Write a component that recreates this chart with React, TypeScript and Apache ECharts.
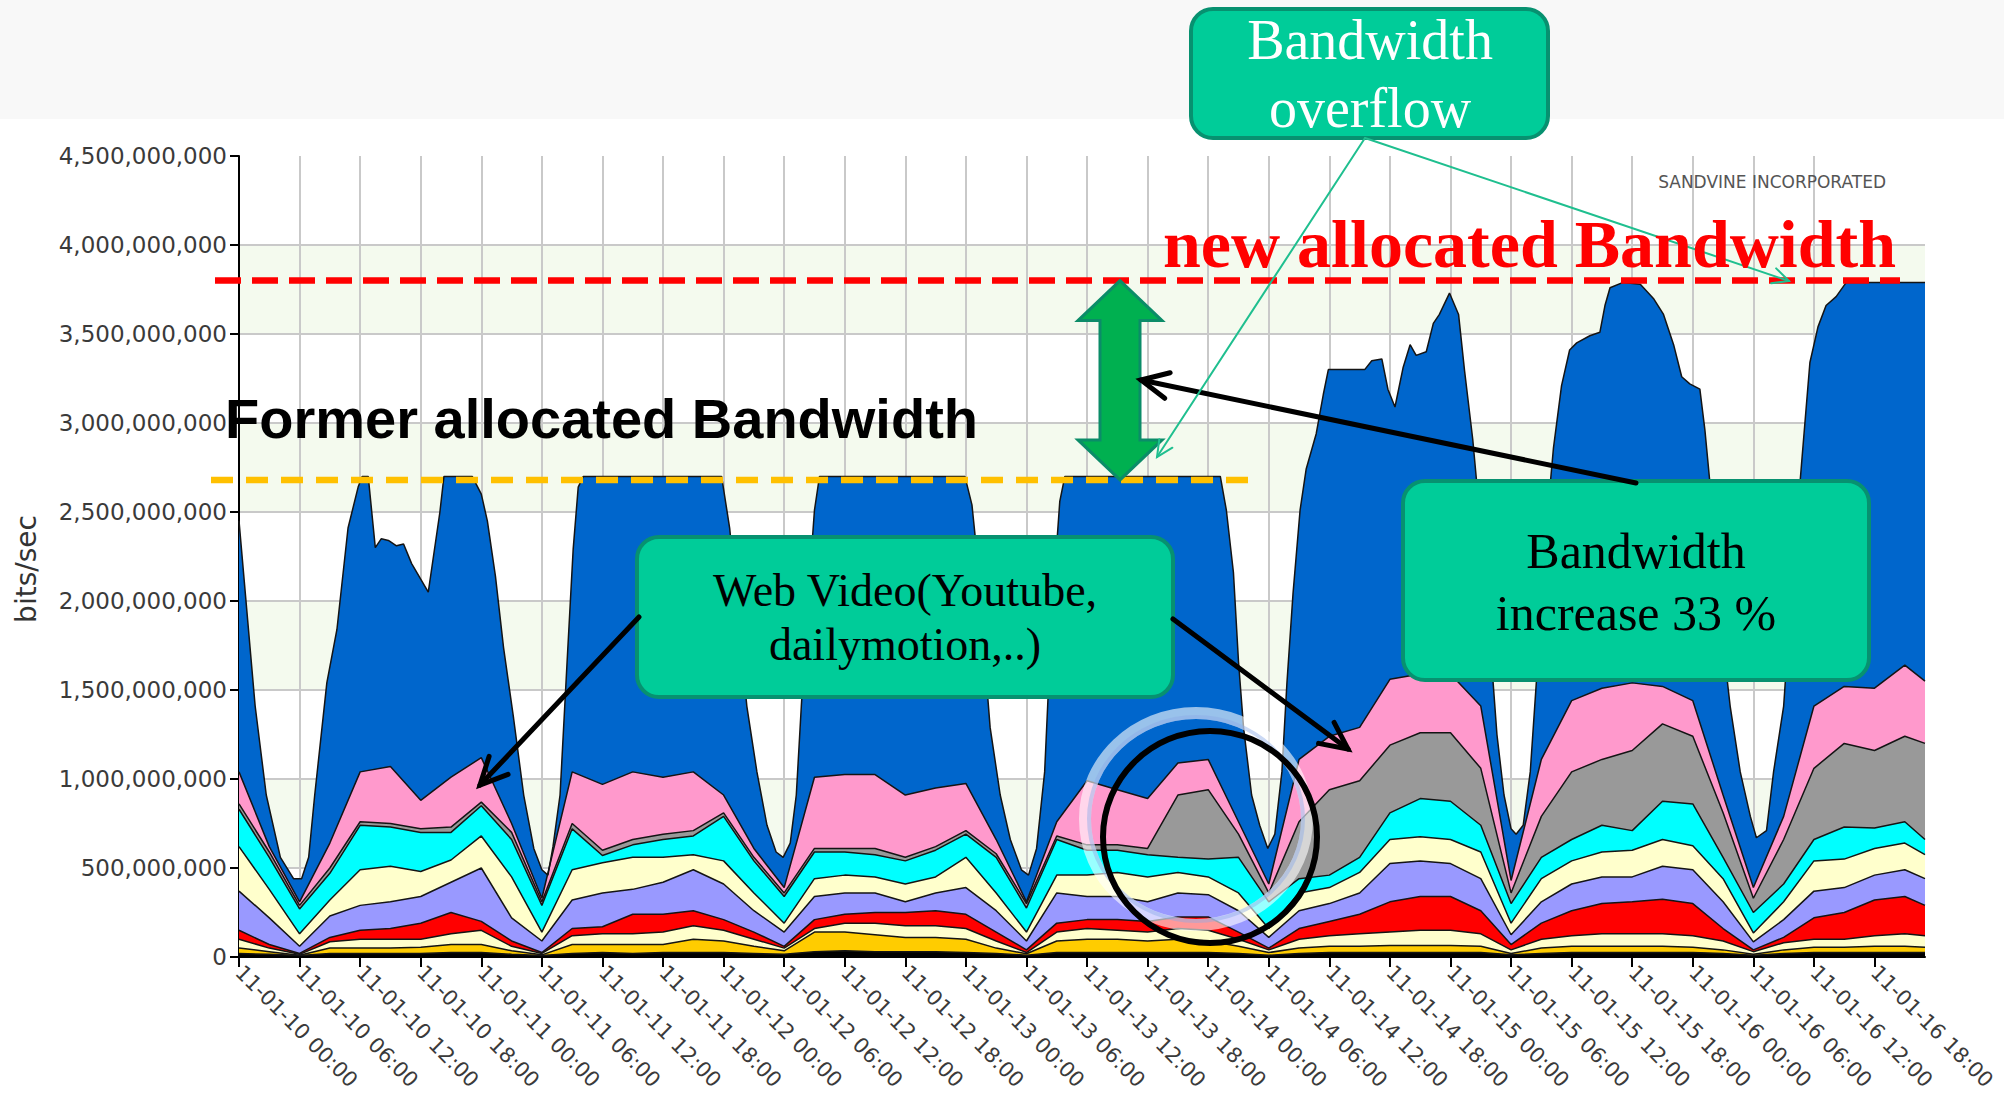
import React, { useEffect, useRef } from "react";
import * as echarts from "echarts";

// ---------- axis labels ----------
const X_LABELS = [
  "11-01-10 00:00", "11-01-10 06:00", "11-01-10 12:00", "11-01-10 18:00",
  "11-01-11 00:00", "11-01-11 06:00", "11-01-11 12:00", "11-01-11 18:00",
  "11-01-12 00:00", "11-01-12 06:00", "11-01-12 12:00", "11-01-12 18:00",
  "11-01-13 00:00", "11-01-13 06:00", "11-01-13 12:00", "11-01-13 18:00",
  "11-01-14 00:00", "11-01-14 06:00", "11-01-14 12:00", "11-01-14 18:00",
  "11-01-15 00:00", "11-01-15 06:00", "11-01-15 12:00", "11-01-15 18:00",
  "11-01-16 00:00", "11-01-16 06:00", "11-01-16 12:00", "11-01-16 18:00",
];
const X_TICK_HOURS = [0, 6, 12, 18, 24, 30, 36, 42, 48, 54, 60, 66, 72, 78, 84, 90, 96, 102, 108, 114, 120, 126, 132, 138, 144, 150, 156, 162];

const FORMER_ALLOCATION = 2.68e9;
const NEW_ALLOCATION = 3.8e9;

// ---------- total traffic (top of the stack, blue = web video) [hour, bits/sec] ----------
const BLUE_TOTAL = [
  [0, 2.45e9], [1.6, 1.41e9], [2.7, 0.91e9], [4.1, 0.56e9], [5.4, 0.44e9], [6.2, 0.44e9], [6.9, 0.56e9], [7.5, 0.91e9],
  [8.7, 1.54e9], [9.7, 1.84e9], [10.8, 2.41e9], [11.8, 2.64e9], [12.2, 2.7e9], [12.8, 2.7e9], [13.5, 2.3e9], [14.1, 2.35e9],
  [14.8, 2.34e9], [15.6, 2.31e9], [16.3, 2.32e9], [17.1, 2.21e9], [18.75, 2.05e9], [19.9, 2.5e9], [20.3, 2.7e9], [23.1, 2.7e9],
  [24.0, 2.6e9], [24.6, 2.45e9], [25.4, 2.14e9], [26.2, 1.74e9], [27.2, 1.34e9], [28.2, 0.91e9], [29.2, 0.61e9], [30, 0.49e9],
  [30.6, 0.46e9], [31.1, 0.62e9], [31.8, 0.91e9], [32.5, 1.66e9], [33.1, 2.29e9], [33.6, 2.64e9], [34.1, 2.7e9],
  [47.8, 2.7e9], [48.6, 2.41e9], [49.45, 1.91e9], [50.3, 1.41e9], [51.3, 1.04e9], [52.3, 0.74e9], [53.2, 0.59e9], [53.9, 0.56e9],
  [54.6, 0.64e9], [55.2, 0.91e9], [55.7, 1.41e9], [56.4, 2.04e9], [57.0, 2.51e9], [57.5, 2.7e9],
  [71.9, 2.7e9], [72.6, 2.54e9], [73.05, 2.29e9], [73.7, 1.79e9], [74.4, 1.29e9], [75.4, 0.91e9], [76.4, 0.66e9], [77.5, 0.49e9],
  [78.2, 0.46e9], [79.0, 0.61e9], [79.8, 1.04e9], [80.3, 1.66e9], [80.8, 2.16e9], [81.3, 2.56e9], [81.8, 2.7e9],
  [97.2, 2.7e9], [97.8, 2.51e9], [98.5, 2.16e9], [99.0, 1.66e9], [99.5, 1.29e9], [100.3, 0.91e9], [101.1, 0.74e9], [101.9, 0.61e9],
  [102.6, 0.69e9], [103.3, 1.04e9], [103.8, 1.54e9], [104.4, 2.04e9], [105.1, 2.51e9], [105.7, 2.74e9], [106.7, 2.94e9], [107.4, 3.16e9],
  [107.9, 3.3e9], [111.5, 3.3e9], [112.2, 3.35e9], [113.2, 3.36e9], [113.8, 3.19e9], [114.5, 3.09e9], [115.3, 3.31e9], [116.0, 3.44e9],
  [116.6, 3.38e9], [117.6, 3.4e9], [118.3, 3.56e9], [118.9, 3.61e9], [119.9, 3.73e9], [120.8, 3.61e9], [121.4, 3.29e9], [122.2, 2.91e9],
  [123.2, 2.29e9], [123.9, 1.79e9], [124.6, 1.25e9], [125.3, 0.91e9], [126.0, 0.72e9], [126.5, 0.69e9], [127.2, 0.74e9], [127.9, 1.04e9],
  [128.5, 1.54e9], [129.3, 2.29e9], [130.2, 2.86e9], [131.0, 3.21e9], [131.8, 3.41e9], [132.5, 3.45e9], [133.8, 3.49e9], [134.8, 3.51e9],
  [135.3, 3.66e9], [135.8, 3.76e9], [137.1, 3.79e9], [138.8, 3.78e9], [140.1, 3.7e9], [141.1, 3.61e9], [142.1, 3.44e9], [142.9, 3.26e9],
  [143.7, 3.22e9], [144.7, 3.19e9], [145.2, 2.96e9], [145.7, 2.66e9], [146.7, 1.91e9], [147.7, 1.41e9], [148.7, 1.04e9], [149.7, 0.79e9],
  [150.3, 0.67e9], [151.3, 0.71e9], [152.0, 1.04e9], [153.0, 1.41e9], [153.9, 2.16e9], [154.8, 2.79e9], [155.6, 3.34e9], [156.4, 3.54e9],
  [157.2, 3.66e9], [158.2, 3.71e9], [159.2, 3.79e9], [167, 3.79e9],
];

// ---------- cumulative tops of the lower layers, sampled every 3 hours ----------
const HOURS = [0, 3, 6, 9, 12, 15, 18, 21, 24, 27, 30, 33, 36, 39, 42, 45, 48, 51, 54, 57, 60, 63, 66, 69, 72, 75, 78, 81, 84, 87, 90, 93, 96, 99, 102, 105, 108, 111, 114, 117, 120, 123, 126, 129, 132, 135, 138, 141, 144, 147, 150, 153, 156, 159, 162, 165, 167];

const PINK = [1.04e9, 0.62e9, 0.31e9, 0.64e9, 1.04e9, 1.07e9, 0.88e9, 1.01e9, 1.12e9, 0.75e9, 0.33e9, 1.04e9, 0.97e9, 1.04e9, 1.01e9, 1.04e9, 0.91e9, 0.61e9, 0.39e9, 1.01e9, 1.025e9, 1.025e9, 0.91e9, 0.95e9, 0.975e9, 0.66e9, 0.31e9, 0.76e9, 0.99e9, 0.94e9, 0.89e9, 1.09e9, 1.11e9, 0.76e9, 0.41e9, 1.11e9, 1.24e9, 1.29e9, 1.56e9, 1.59e9, 1.59e9, 1.41e9, 0.43e9, 1.11e9, 1.44e9, 1.51e9, 1.54e9, 1.52e9, 1.44e9, 0.91e9, 0.39e9, 0.79e9, 1.41e9, 1.52e9, 1.51e9, 1.64e9, 1.55e9];
const GRAY = [0.86e9, 0.59e9, 0.29e9, 0.5e9, 0.76e9, 0.75e9, 0.72e9, 0.73e9, 0.87e9, 0.7e9, 0.31e9, 0.75e9, 0.6e9, 0.66e9, 0.69e9, 0.71e9, 0.81e9, 0.56e9, 0.36e9, 0.61e9, 0.61e9, 0.61e9, 0.56e9, 0.62e9, 0.71e9, 0.58e9, 0.3e9, 0.68e9, 0.63e9, 0.63e9, 0.61e9, 0.91e9, 0.94e9, 0.69e9, 0.36e9, 0.76e9, 0.94e9, 0.99e9, 1.19e9, 1.26e9, 1.26e9, 1.06e9, 0.36e9, 0.79e9, 1.04e9, 1.11e9, 1.16e9, 1.31e9, 1.24e9, 0.81e9, 0.33e9, 0.66e9, 1.06e9, 1.2e9, 1.16e9, 1.24e9, 1.2e9];
const CYAN = [0.83e9, 0.56e9, 0.27e9, 0.47e9, 0.74e9, 0.73e9, 0.7e9, 0.7e9, 0.85e9, 0.66e9, 0.29e9, 0.72e9, 0.57e9, 0.63e9, 0.66e9, 0.68e9, 0.79e9, 0.54e9, 0.34e9, 0.59e9, 0.59e9, 0.575e9, 0.54e9, 0.6e9, 0.69e9, 0.56e9, 0.275e9, 0.66e9, 0.6e9, 0.6e9, 0.575e9, 0.56e9, 0.55e9, 0.56e9, 0.31e9, 0.44e9, 0.46e9, 0.56e9, 0.81e9, 0.89e9, 0.875e9, 0.74e9, 0.3e9, 0.56e9, 0.66e9, 0.74e9, 0.71e9, 0.875e9, 0.86e9, 0.56e9, 0.25e9, 0.41e9, 0.66e9, 0.73e9, 0.725e9, 0.76e9, 0.66e9];
const LIGHT_YELLOW_HI = [0.62e9, 0.38e9, 0.13e9, 0.32e9, 0.49e9, 0.51e9, 0.48e9, 0.545e9, 0.68e9, 0.45e9, 0.14e9, 0.49e9, 0.53e9, 0.56e9, 0.56e9, 0.575e9, 0.54e9, 0.36e9, 0.19e9, 0.44e9, 0.46e9, 0.45e9, 0.41e9, 0.45e9, 0.56e9, 0.36e9, 0.14e9, 0.46e9, 0.46e9, 0.475e9, 0.45e9, 0.475e9, 0.45e9, 0.36e9, 0.16e9, 0.36e9, 0.39e9, 0.475e9, 0.66e9, 0.675e9, 0.66e9, 0.59e9, 0.19e9, 0.44e9, 0.54e9, 0.59e9, 0.6e9, 0.66e9, 0.625e9, 0.44e9, 0.135e9, 0.31e9, 0.54e9, 0.55e9, 0.61e9, 0.64e9, 0.575e9];
const LAVENDER = [0.37e9, 0.22e9, 0.06e9, 0.23e9, 0.29e9, 0.31e9, 0.34e9, 0.42e9, 0.5e9, 0.22e9, 0.09e9, 0.32e9, 0.36e9, 0.38e9, 0.42e9, 0.49e9, 0.41e9, 0.26e9, 0.14e9, 0.34e9, 0.36e9, 0.36e9, 0.31e9, 0.36e9, 0.39e9, 0.26e9, 0.09e9, 0.36e9, 0.34e9, 0.34e9, 0.31e9, 0.36e9, 0.35e9, 0.26e9, 0.11e9, 0.26e9, 0.3e9, 0.36e9, 0.525e9, 0.54e9, 0.525e9, 0.44e9, 0.125e9, 0.31e9, 0.41e9, 0.45e9, 0.45e9, 0.51e9, 0.49e9, 0.31e9, 0.085e9, 0.21e9, 0.37e9, 0.39e9, 0.46e9, 0.49e9, 0.44e9];
const RED = [0.15e9, 0.07e9, 0.02e9, 0.11e9, 0.15e9, 0.16e9, 0.19e9, 0.25e9, 0.2e9, 0.09e9, 0.025e9, 0.16e9, 0.17e9, 0.24e9, 0.24e9, 0.26e9, 0.21e9, 0.14e9, 0.06e9, 0.21e9, 0.24e9, 0.25e9, 0.25e9, 0.26e9, 0.24e9, 0.14e9, 0.04e9, 0.19e9, 0.21e9, 0.21e9, 0.2e9, 0.225e9, 0.225e9, 0.14e9, 0.05e9, 0.16e9, 0.2e9, 0.24e9, 0.31e9, 0.34e9, 0.34e9, 0.26e9, 0.07e9, 0.19e9, 0.26e9, 0.3e9, 0.31e9, 0.325e9, 0.3e9, 0.16e9, 0.04e9, 0.11e9, 0.22e9, 0.25e9, 0.32e9, 0.34e9, 0.29e9];
const LIGHT_YELLOW_LO = [0.1e9, 0.05e9, 0.015e9, 0.086e9, 0.1e9, 0.1e9, 0.1e9, 0.13e9, 0.15e9, 0.06e9, 0.02e9, 0.12e9, 0.13e9, 0.13e9, 0.14e9, 0.175e9, 0.15e9, 0.1e9, 0.05e9, 0.16e9, 0.19e9, 0.19e9, 0.175e9, 0.175e9, 0.16e9, 0.09e9, 0.025e9, 0.14e9, 0.16e9, 0.15e9, 0.14e9, 0.16e9, 0.15e9, 0.1e9, 0.04e9, 0.1e9, 0.12e9, 0.13e9, 0.14e9, 0.15e9, 0.15e9, 0.13e9, 0.04e9, 0.1e9, 0.12e9, 0.13e9, 0.13e9, 0.13e9, 0.12e9, 0.09e9, 0.03e9, 0.08e9, 0.1e9, 0.1e9, 0.12e9, 0.13e9, 0.12e9];
const GOLD = [0.05e9, 0.03e9, 0.01e9, 0.05e9, 0.05e9, 0.05e9, 0.055e9, 0.07e9, 0.07e9, 0.035e9, 0.012e9, 0.07e9, 0.07e9, 0.07e9, 0.07e9, 0.1e9, 0.09e9, 0.06e9, 0.035e9, 0.14e9, 0.14e9, 0.125e9, 0.11e9, 0.11e9, 0.1e9, 0.05e9, 0.018e9, 0.09e9, 0.1e9, 0.1e9, 0.09e9, 0.1e9, 0.09e9, 0.06e9, 0.025e9, 0.05e9, 0.06e9, 0.06e9, 0.065e9, 0.065e9, 0.065e9, 0.06e9, 0.02e9, 0.05e9, 0.06e9, 0.06e9, 0.06e9, 0.06e9, 0.055e9, 0.04e9, 0.015e9, 0.04e9, 0.055e9, 0.055e9, 0.06e9, 0.06e9, 0.055e9];
const BLACK = [0.02e9, 0.015e9, 0.008e9, 0.02e9, 0.02e9, 0.02e9, 0.02e9, 0.025e9, 0.025e9, 0.015e9, 0.008e9, 0.02e9, 0.025e9, 0.02e9, 0.025e9, 0.025e9, 0.025e9, 0.02e9, 0.015e9, 0.03e9, 0.035e9, 0.03e9, 0.03e9, 0.03e9, 0.025e9, 0.02e9, 0.01e9, 0.025e9, 0.025e9, 0.025e9, 0.025e9, 0.025e9, 0.025e9, 0.02e9, 0.01e9, 0.02e9, 0.025e9, 0.025e9, 0.025e9, 0.025e9, 0.025e9, 0.025e9, 0.012e9, 0.02e9, 0.025e9, 0.025e9, 0.025e9, 0.025e9, 0.025e9, 0.02e9, 0.01e9, 0.02e9, 0.025e9, 0.025e9, 0.025e9, 0.025e9, 0.025e9];

const SERIF = '"Liberation Serif", "Times New Roman", serif';
const SANS = '"Liberation Sans", Arial, sans-serif';
const AXIS_FONT = '"DejaVu Sans", Verdana, sans-serif';

function arrow(x1: number, y1: number, x2: number, y2: number, color: string, width: number, head: number, spread = 0.45) {
  const ang = Math.atan2(y2 - y1, x2 - x1);
  const a1 = ang + Math.PI - spread;
  const a2 = ang + Math.PI + spread;
  return [
    { type: "line", z: 120, shape: { x1, y1, x2, y2 }, style: { stroke: color, lineWidth: width, lineCap: "round" } },
    {
      type: "polyline", z: 120,
      shape: { points: [[x2 + head * Math.cos(a1), y2 + head * Math.sin(a1)], [x2, y2], [x2 + head * Math.cos(a2), y2 + head * Math.sin(a2)]] },
      style: { stroke: color, lineWidth: width, fill: "none", lineJoin: "miter", lineCap: "round" },
    },
  ];
}

function txt(text: string, x: number, y: number, size: number, family: string, fill: string, weight = "normal", align = "center") {
  return { type: "text", z: 130, x, y, style: { text, fill, fontSize: size, fontFamily: family, fontWeight: weight, align, verticalAlign: "middle" } };
}

export default function App() {
  const ref = useRef<HTMLDivElement>(null);
  useEffect(() => {
    const el = ref.current;
    if (!el) return;
    const chart = echarts.init(el, null, { renderer: "svg" });

    const onGrid = (arr: number[]) => HOURS.map((h, i) => [h, arr[i]]);
    const layer = (name: string, color: string, data: number[][]) => ({
      type: "line", name, data, symbol: "none", showSymbol: false, silent: true,
      lineStyle: { color: "#141414", width: 1.5 },
      areaStyle: { color, opacity: 1 },
      emphasis: { disabled: true },
    });

    chart.setOption({
      animation: false,
      backgroundColor: "#ffffff",
      grid: { left: 239, top: 156, width: 1686, height: 801, containLabel: false, outerBoundsMode: "none" },
      xAxis: {
        type: "value", min: 0, max: 167, interval: 6,
        axisLine: { show: true, onZero: false, lineStyle: { color: "#000", width: 2 } },
        axisTick: { show: true, length: 10, customValues: X_TICK_HOURS, lineStyle: { color: "#000", width: 2 } },
        axisLabel: {
          customValues: X_TICK_HOURS, rotate: -45, margin: 12, fontSize: 21, fontFamily: AXIS_FONT, color: "#3a3a3a",
          formatter: (v: number) => (v % 6 === 0 ? X_LABELS[Math.round(v / 6)] ?? "" : ""),
        },
        splitLine: { show: true, showMinLine: false, showMaxLine: false, lineStyle: { color: "#c9c9c9", width: 2 } },
      },
      yAxis: {
        type: "value", min: 0, max: 4.5e9, interval: 5e8,
        axisLine: { show: true, lineStyle: { color: "#000", width: 2 } },
        axisTick: { show: true, length: 9, lineStyle: { color: "#000", width: 2 } },
        axisLabel: { margin: 12, fontSize: 23, fontFamily: AXIS_FONT, color: "#3a3a3a" },
        splitLine: { show: true, showMaxLine: false, lineStyle: { color: "#c9c9c9", width: 2 } },
        splitArea: { show: true, areaStyle: { color: ["#ffffff", "#f4faee"] } },
      },
      series: [
        layer("Web video / total", "#0066cc", BLUE_TOTAL),
        layer("Pink", "#ff99cc", onGrid(PINK)),
        layer("Gray", "#999999", onGrid(GRAY)),
        layer("Cyan", "#00ffff", onGrid(CYAN)),
        layer("Light yellow", "#ffffcc", onGrid(LIGHT_YELLOW_HI)),
        layer("Lavender", "#9999ff", onGrid(LAVENDER)),
        layer("Red", "#ff0000", onGrid(RED)),
        layer("Light yellow 2", "#ffffcc", onGrid(LIGHT_YELLOW_LO)),
        layer("Gold", "#ffcc00", onGrid(GOLD)),
        layer("Black", "#000000", onGrid(BLACK)),
      ],
    });

    const yNew = (chart.convertToPixel({ gridIndex: 0 }, [0, NEW_ALLOCATION]) as number[])[1];
    const yOld = (chart.convertToPixel({ gridIndex: 0 }, [0, FORMER_ALLOCATION]) as number[])[1];

    const cx = 1120, hw = 42, sw = 20, hh = 40;
    const greenArrow = {
      type: "polygon", z: 110,
      shape: {
        points: [
          [cx, yNew], [cx + hw, yNew + hh], [cx + sw, yNew + hh], [cx + sw, yOld - hh], [cx + hw, yOld - hh],
          [cx, yOld], [cx - hw, yOld - hh], [cx - sw, yOld - hh], [cx - sw, yNew + hh], [cx - hw, yNew + hh],
        ],
      },
      style: { fill: "#00b050", stroke: "#0b8c68", lineWidth: 3, lineJoin: "miter" },
    };

    const box = (x: number, y: number, w: number, h: number) => ({
      type: "rect", z: 115, shape: { x, y, width: w, height: h, r: 22 },
      style: { fill: "#00cc99", stroke: "#079170", lineWidth: 4 },
    });

    const graphics: any[] = [
      { type: "rect", z: -10, silent: true, shape: { x: 0, y: 0, width: 2004, height: 119 }, style: { fill: "#f8f8f8" } },
      txt("SANDVINE INCORPORATED", 1886, 182, 17, AXIS_FONT, "#555555", "normal", "right"),
      { type: "text", z: 130, x: 26, y: 569, rotation: Math.PI / 2, style: { text: "bits/sec", fill: "#333", fontSize: 28, fontFamily: AXIS_FONT, align: "center", verticalAlign: "middle" } },
      { type: "line", z: 105, shape: { x1: 215, y1: yNew, x2: 1900, y2: yNew }, style: { stroke: "#ff0000", lineWidth: 6.5, lineDash: [26, 11] } },
      { type: "line", z: 105, shape: { x1: 211, y1: yOld, x2: 1253, y2: yOld }, style: { stroke: "#ffc000", lineWidth: 6.5, lineDash: [22, 13] } },
      txt("new allocated Bandwidth", 1163, 244, 68, SERIF, "#ff0000", "bold", "left"),
      txt("Former allocated Bandwidth", 225, 418, 56, SANS, "#000000", "bold", "left"),
      greenArrow,
      box(1191, 9, 357, 129),
      txt("Bandwidth", 1370, 40, 56, SERIF, "#ffffff"),
      txt("overflow", 1370, 108, 56, SERIF, "#ffffff"),
      box(637, 537, 536, 160),
      txt("Web Video(Youtube,", 905, 590, 46, SERIF, "#000000"),
      txt("dailymotion,..)", 905, 644, 46, SERIF, "#000000"),
      box(1403, 481, 466, 199),
      txt("Bandwidth", 1636, 551, 50, SERIF, "#000000"),
      txt("increase 33 %", 1636, 613, 50, SERIF, "#000000"),
      ...arrow(639, 617, 480, 785, "#000000", 5, 30),
      ...arrow(1173, 619, 1348, 749, "#000000", 5, 30),
      ...arrow(1636, 483, 1141, 380, "#000000", 5, 30),
      ...arrow(1365, 138, 1157, 457, "#1fbf8f", 2, 18),
      ...arrow(1365, 138, 1789, 281, "#1fbf8f", 2, 18),
      { type: "ellipse", z: 125, shape: { cx: 1196, cy: 819, rx: 111, ry: 106 }, style: { fill: "none", stroke: "rgba(255,255,255,0.6)", lineWidth: 12 } },
      { type: "ellipse", z: 126, shape: { cx: 1196, cy: 819, rx: 107, ry: 102 }, style: { fill: "none", stroke: "rgba(140,170,230,0.45)", lineWidth: 4 } },
      { type: "ellipse", z: 127, shape: { cx: 1210, cy: 837, rx: 107, ry: 106 }, style: { fill: "none", stroke: "#000000", lineWidth: 6 } },
    ];
    chart.setOption({ graphic: graphics });

    return () => chart.dispose();
  }, []);

  return <div ref={ref} style={{ position: "fixed", left: 0, top: 0, width: 2004, height: 1096, background: "#fff" }} />;
}
